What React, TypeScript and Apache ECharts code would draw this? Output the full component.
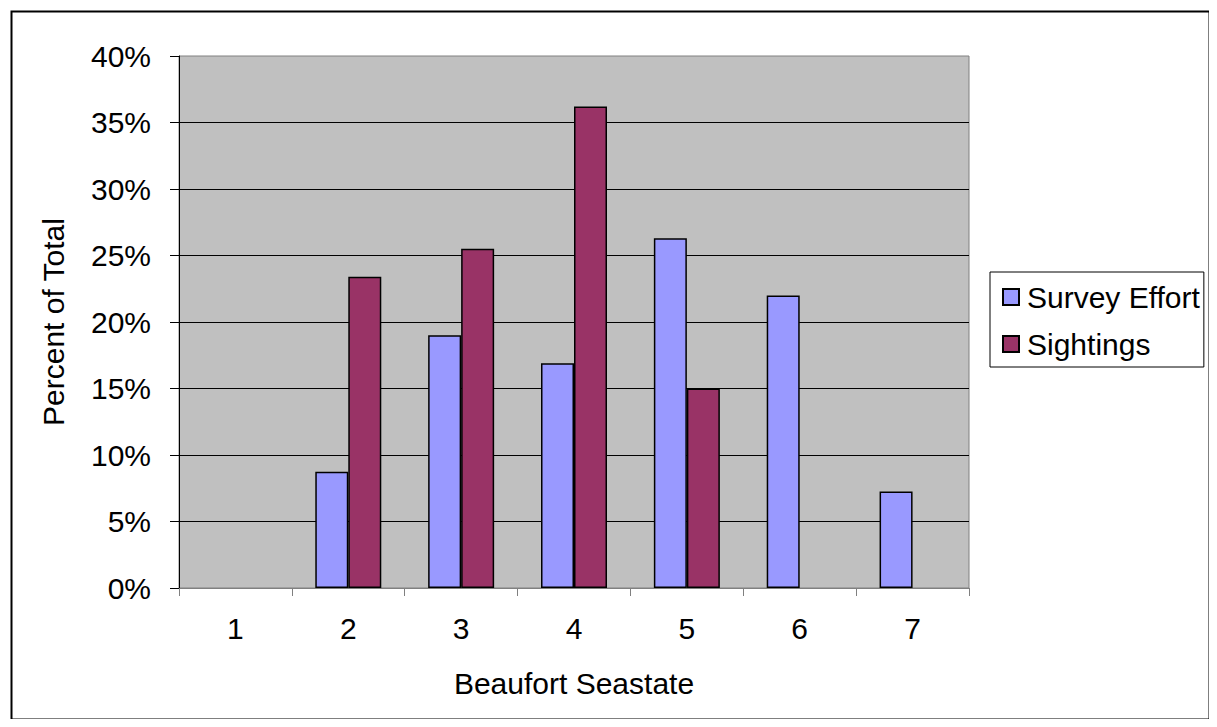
import React, { useEffect, useRef } from "react";
import * as echarts from "echarts";

// Beaufort sea state categories and percentage shares
const seastates = ["1", "2", "3", "4", "5", "6", "7"];
const surveyEffort = [0, 8.75, 19.0, 16.9, 26.3, 22.0, 7.25];
const sightings = [0, 23.4, 25.5, 36.2, 15.0, 0, 0];

const FONT = "'Liberation Sans', Arial, sans-serif";

// Empty categories get no bar at all (not even an outline on the baseline)
const asBars = (values: number[]) => values.map((v) => (v === 0 ? "-" : v));

export default function App() {
  const ref = useRef<HTMLDivElement>(null);

  useEffect(() => {
    if (!ref.current) return;
    const chart = echarts.init(ref.current, null, { renderer: "svg" });
    chart.setOption({
      animation: false,
      backgroundColor: "#ffffff",
      textStyle: { fontFamily: FONT },
      graphic: [
        {
          type: "rect",
          left: 1,
          top: 1,
          shape: { x: 0, y: 0, width: 1198, height: 708 },
          style: { fill: "none", stroke: "#000", lineWidth: 2 },
          silent: true,
          z: 100,
        },
      ],
      grid: {
        left: 171,
        top: 48,
        right: 240,
        bottom: 131,
        show: true,
        backgroundColor: "#C0C0C0",
        borderColor: "#808080",
        borderWidth: 1,
      },
      legend: {
        orient: "vertical",
        left: 982,
        top: 264,
        padding: [10, 4, 8, 12],
        itemWidth: 16,
        itemHeight: 16,
        itemGap: 17,
        borderColor: "#000",
        borderWidth: 1,
        backgroundColor: "#fff",
        icon: "rect",
        textStyle: {
          fontFamily: FONT,
          fontSize: 30,
          lineHeight: 30,
          color: "#000",
          padding: [0, 0, 0, 3],
        },
        data: ["Survey Effort", "Sightings"],
      },
      xAxis: {
        type: "category",
        data: seastates,
        name: "Beaufort Seastate",
        nameLocation: "middle",
        nameGap: 80,
        nameTextStyle: { fontFamily: FONT, fontSize: 30, color: "#000" },
        axisLine: { lineStyle: { color: "#808080", width: 1 } },
        axisTick: { show: true, length: 8, lineStyle: { color: "#808080", width: 1 } },
        axisLabel: { fontFamily: FONT, fontSize: 30, color: "#000", margin: 25 },
        splitLine: { show: false },
      },
      yAxis: {
        type: "value",
        min: 0,
        max: 40,
        interval: 5,
        name: "Percent of Total",
        nameLocation: "middle",
        nameGap: 111,
        nameTextStyle: { fontFamily: FONT, fontSize: 30, color: "#000" },
        axisLine: { show: true, lineStyle: { color: "#000", width: 1 } },
        axisTick: { show: true, length: 9, lineStyle: { color: "#000" } },
        axisLabel: {
          fontFamily: FONT,
          fontSize: 30,
          color: "#000",
          margin: 28,
          formatter: "{value}%",
        },
        splitLine: {
          show: true,
          showMinLine: false,
          showMaxLine: false,
          lineStyle: { color: "#000", width: 1 },
        },
      },
      series: [
        {
          name: "Survey Effort",
          type: "bar",
          data: asBars(surveyEffort),
          barWidth: 33,
          barGap: "0%",
          itemStyle: { color: "#9999FF", borderColor: "#000", borderWidth: 1.5 },
        },
        {
          name: "Sightings",
          type: "bar",
          data: asBars(sightings),
          barWidth: 33,
          barGap: "0%",
          itemStyle: { color: "#993366", borderColor: "#000", borderWidth: 1.5 },
        },
      ],
    });
    return () => chart.dispose();
  }, []);

  return <div ref={ref} style={{ width: 1201, height: 711 }} />;
}
